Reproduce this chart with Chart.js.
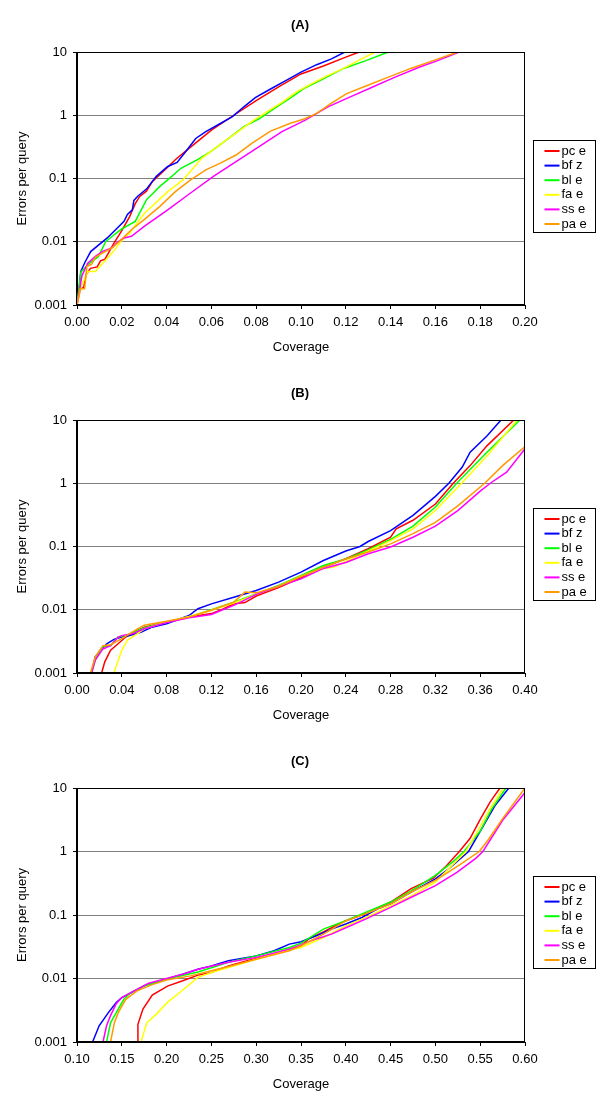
<!DOCTYPE html>
<html>
<head>
<meta charset="utf-8">
<script src="https://cdn.jsdelivr.net/npm/chart.js@4"></script>
<style>
  body { margin: 0; background: #fff; }
  canvas { display: block; }
</style>
</head>
<body>
<canvas id="chartA" width="600" height="368"></canvas>
<canvas id="chartB" width="600" height="368"></canvas>
<canvas id="chartC" width="600" height="369"></canvas>
<script>
// series labels + colours (same in all three panels)
const seriesNames = ['pc e', 'bf z', 'bl e', 'fa e', 'ss e', 'pa e'];
const seriesColors = ['#FF0000', '#0000FF', '#00FF00', '#FFFF00', '#FF00FF', '#FF9900'];

// tick values
const yTicks = [0.001, 0.01, 0.1, 1, 10];
const xTicksA = [0, 0.02, 0.04, 0.06, 0.08, 0.10, 0.12, 0.14, 0.16, 0.18, 0.20];
const xTicksB = [0, 0.04, 0.08, 0.12, 0.16, 0.20, 0.24, 0.28, 0.32, 0.36, 0.40];
const xTicksC = [0.10, 0.15, 0.20, 0.25, 0.30, 0.35, 0.40, 0.45, 0.50, 0.55, 0.60];

// (A)  [coverage, errors per query]
const A_pc = [[0,0.001],[0.0015,0.0018],[0.003,0.0019],[0.004,0.003],[0.006,0.0038],[0.009,0.004],[0.0105,0.005],[0.0125,0.0053],[0.0165,0.0095],[0.02,0.015],[0.0235,0.025],[0.026,0.04],[0.028,0.052],[0.031,0.063],[0.0337,0.09],[0.04,0.145],[0.044,0.2],[0.05,0.3],[0.06,0.58],[0.07,1.0],[0.08,1.7],[0.09,2.8],[0.10,4.5],[0.11,6.0],[0.12,8.3],[0.126,10]];
const A_bf = [[0,0.001],[0.0009,0.0018],[0.0017,0.0034],[0.0035,0.0047],[0.0061,0.007],[0.0135,0.0115],[0.018,0.0165],[0.021,0.021],[0.0225,0.027],[0.0247,0.032],[0.0254,0.045],[0.027,0.052],[0.031,0.068],[0.0354,0.108],[0.0405,0.155],[0.0447,0.18],[0.049,0.28],[0.053,0.43],[0.0575,0.55],[0.064,0.74],[0.0694,0.95],[0.0745,1.36],[0.0796,1.9],[0.0864,2.6],[0.093,3.5],[0.10,4.8],[0.107,6.3],[0.1136,7.8],[0.1196,10]];
const A_bl = [[0,0.001],[0.0017,0.0033],[0.0056,0.0046],[0.0095,0.0058],[0.0128,0.01],[0.0167,0.013],[0.02,0.016],[0.026,0.021],[0.031,0.046],[0.037,0.075],[0.0405,0.095],[0.0464,0.145],[0.054,0.2],[0.06,0.27],[0.0677,0.43],[0.0745,0.66],[0.0813,0.88],[0.088,1.27],[0.095,1.85],[0.1017,2.7],[0.1102,3.8],[0.119,5.5],[0.129,7.3],[0.139,10]];
const A_fa = [[0,0.001],[0.0014,0.0018],[0.0048,0.0034],[0.0082,0.0034],[0.0116,0.0046],[0.015,0.0063],[0.0175,0.008],[0.0195,0.01],[0.0235,0.0138],[0.03,0.028],[0.0405,0.062],[0.0473,0.095],[0.0507,0.13],[0.0558,0.21],[0.0626,0.32],[0.071,0.52],[0.078,0.79],[0.0847,1.13],[0.0915,1.6],[0.098,2.35],[0.105,3.2],[0.1116,4.2],[0.119,5.5],[0.1255,7.3],[0.1332,10]];
const A_ss = [[0,0.001],[0.0022,0.0029],[0.0048,0.0046],[0.0082,0.0059],[0.0116,0.0071],[0.0156,0.008],[0.018,0.0098],[0.021,0.0115],[0.0243,0.0122],[0.03,0.0175],[0.0405,0.032],[0.0507,0.059],[0.0609,0.108],[0.071,0.185],[0.0813,0.32],[0.0915,0.55],[0.1017,0.83],[0.112,1.36],[0.122,1.95],[0.132,2.8],[0.142,4.0],[0.153,5.8],[0.161,7.3],[0.1706,10]];
const A_pa = [[0,0.001],[0.0014,0.0018],[0.0034,0.0018],[0.0044,0.0041],[0.0065,0.0044],[0.0082,0.0057],[0.0116,0.0067],[0.0156,0.008],[0.0188,0.01],[0.0243,0.0155],[0.03,0.0224],[0.037,0.0363],[0.0439,0.062],[0.0507,0.095],[0.0575,0.137],[0.064,0.175],[0.071,0.235],[0.078,0.36],[0.0864,0.56],[0.095,0.74],[0.1017,0.88],[0.107,1.07],[0.1136,1.56],[0.1204,2.2],[0.129,2.9],[0.139,4.0],[0.149,5.5],[0.159,7.3],[0.17,10]];

// (B)
const B_pc = [[0.022,0.001],[0.0248,0.0015],[0.03,0.0023],[0.0367,0.0029],[0.0435,0.0037],[0.054,0.0047],[0.06,0.0053],[0.08,0.0064],[0.10,0.0077],[0.12,0.0087],[0.13,0.0102],[0.14,0.0124],[0.15,0.0130],[0.16,0.0165],[0.18,0.0225],[0.20,0.032],[0.22,0.047],[0.24,0.064],[0.26,0.092],[0.28,0.14],[0.285,0.19],[0.30,0.26],[0.32,0.47],[0.336,1.0],[0.351,1.9],[0.366,3.9],[0.39,10]];
const B_bf = [[0.013,0.001],[0.0163,0.0018],[0.0214,0.0023],[0.0265,0.0029],[0.033,0.0034],[0.04,0.0037],[0.047,0.0039],[0.057,0.0044],[0.067,0.0053],[0.08,0.006],[0.10,0.0081],[0.108,0.0104],[0.12,0.0124],[0.14,0.0158],[0.16,0.0201],[0.18,0.0273],[0.20,0.0393],[0.22,0.060],[0.24,0.085],[0.2527,0.1],[0.26,0.12],[0.28,0.178],[0.30,0.31],[0.32,0.62],[0.332,1.0],[0.344,1.8],[0.351,3.1],[0.366,5.6],[0.3786,10]];
const B_bl = [[0.013,0.001],[0.0163,0.0016],[0.0231,0.0026],[0.03,0.0027],[0.0367,0.0037],[0.0435,0.0039],[0.06,0.0052],[0.08,0.0064],[0.10,0.0077],[0.12,0.0100],[0.14,0.0132],[0.16,0.0178],[0.18,0.0242],[0.20,0.0348],[0.22,0.05],[0.24,0.0636],[0.26,0.088],[0.28,0.13],[0.30,0.21],[0.32,0.42],[0.339,1.0],[0.366,3.1],[0.3955,10]];
const B_fa = [[0.033,0.001],[0.04,0.0023],[0.045,0.0033],[0.054,0.0042],[0.06,0.0050],[0.08,0.0064],[0.10,0.0078],[0.12,0.0098],[0.14,0.0128],[0.16,0.0175],[0.18,0.0235],[0.20,0.034],[0.22,0.045],[0.23,0.048],[0.24,0.058],[0.26,0.085],[0.28,0.124],[0.30,0.19],[0.32,0.37],[0.3434,1.0],[0.366,2.7],[0.393,10]];
const B_ss = [[0.013,0.001],[0.0163,0.0016],[0.0231,0.0024],[0.03,0.0027],[0.0367,0.0037],[0.04,0.0039],[0.05,0.0042],[0.06,0.0050],[0.08,0.0063],[0.10,0.0075],[0.12,0.0084],[0.13,0.0100],[0.14,0.0117],[0.16,0.0175],[0.18,0.0235],[0.20,0.0308],[0.22,0.045],[0.24,0.056],[0.26,0.077],[0.28,0.098],[0.30,0.14],[0.32,0.21],[0.34,0.37],[0.36,0.75],[0.369,1.0],[0.3836,1.5],[0.40,3.5]];
const B_pa = [[0.012,0.001],[0.0163,0.0018],[0.0231,0.0027],[0.03,0.0028],[0.04,0.0035],[0.054,0.005],[0.06,0.0057],[0.08,0.0066],[0.10,0.0077],[0.12,0.0098],[0.14,0.0132],[0.15,0.019],[0.16,0.0185],[0.18,0.0235],[0.20,0.0335],[0.22,0.047],[0.24,0.0636],[0.26,0.082],[0.28,0.11],[0.30,0.16],[0.32,0.24],[0.34,0.44],[0.364,1.0],[0.38,1.9],[0.40,3.8]];

// (C)
const C_pc = [[0.168,0.001],[0.168,0.0019],[0.1736,0.0033],[0.184,0.0055],[0.201,0.0076],[0.218,0.0092],[0.235,0.0113],[0.25,0.0124],[0.269,0.0158],[0.29,0.019],[0.312,0.0227],[0.337,0.0288],[0.35,0.0328],[0.3585,0.042],[0.375,0.054],[0.388,0.0675],[0.40,0.081],[0.4265,0.11],[0.45,0.16],[0.473,0.26],[0.4977,0.38],[0.5126,0.6],[0.5267,1.0],[0.5386,1.6],[0.55,3.2],[0.561,6.0],[0.572,10]];
const C_bf = [[0.1174,0.001],[0.1247,0.0018],[0.135,0.0029],[0.1438,0.0042],[0.15,0.005],[0.1608,0.006],[0.1757,0.0078],[0.2,0.0098],[0.218,0.0117],[0.235,0.014],[0.25,0.0158],[0.269,0.019],[0.30,0.0227],[0.32,0.0273],[0.337,0.0348],[0.35,0.038],[0.367,0.047],[0.384,0.06],[0.40,0.072],[0.418,0.0915],[0.435,0.124],[0.45,0.15],[0.473,0.23],[0.50,0.37],[0.516,0.55],[0.537,1.0],[0.554,2.6],[0.567,5.4],[0.582,10]];
const C_bl = [[0.133,0.001],[0.1374,0.002],[0.1438,0.0029],[0.1523,0.0047],[0.16,0.006],[0.1757,0.0077],[0.2,0.0098],[0.235,0.0127],[0.269,0.018],[0.30,0.0227],[0.337,0.0308],[0.35,0.036],[0.375,0.06],[0.40,0.081],[0.422,0.11],[0.45,0.16],[0.473,0.24],[0.50,0.42],[0.52,0.7],[0.532,1.0],[0.55,2.1],[0.5626,4.6],[0.5788,10]];
const C_fa = [[0.1714,0.001],[0.1778,0.002],[0.188,0.0027],[0.201,0.0042],[0.218,0.0066],[0.235,0.0104],[0.25,0.0124],[0.269,0.0149],[0.30,0.0201],[0.333,0.0273],[0.35,0.0308],[0.375,0.0443],[0.40,0.067],[0.422,0.091],[0.45,0.139],[0.473,0.2],[0.50,0.33],[0.534,1.0],[0.548,2.2],[0.56,4.5],[0.5758,10]];
const C_ss = [[0.129,0.001],[0.133,0.0018],[0.1374,0.0026],[0.1438,0.004],[0.15,0.005],[0.16,0.006],[0.18,0.0084],[0.2,0.01],[0.218,0.0117],[0.235,0.014],[0.269,0.018],[0.30,0.0215],[0.337,0.029],[0.367,0.042],[0.384,0.05],[0.40,0.063],[0.422,0.086],[0.45,0.132],[0.473,0.19],[0.50,0.29],[0.524,0.47],[0.545,0.78],[0.553,1.0],[0.575,3.1],[0.60,8.5]];
const C_pa = [[0.1374,0.001],[0.1417,0.002],[0.146,0.0029],[0.1544,0.0047],[0.167,0.0064],[0.184,0.008],[0.2,0.0095],[0.2267,0.011],[0.25,0.0132],[0.269,0.0154],[0.30,0.02],[0.337,0.0273],[0.35,0.0328],[0.375,0.05],[0.40,0.081],[0.422,0.104],[0.45,0.15],[0.473,0.23],[0.50,0.35],[0.524,0.58],[0.549,1.0],[0.56,1.6],[0.575,3.3],[0.60,10]];

const FONT = "'Liberation Sans', Arial, sans-serif";
Chart.defaults.font.family = FONT;
Chart.defaults.font.size = 13;
Chart.defaults.color = '#000';

// black box round the plot area (excel style)
const plotFrame = {
    id: 'plotFrame',
    afterDatasetsDraw(chart) {
        const { ctx, chartArea: a } = chart;
        ctx.save();
        ctx.strokeStyle = '#000';
        ctx.lineWidth = 1;
        ctx.strokeRect(Math.round(a.left) - 0.5, Math.round(a.top) + 0.5,
            Math.round(a.right - a.left), Math.round(a.bottom - a.top) - 1);
        ctx.restore();
    }
};

// legend box to the right of the plot
const sideLegend = {
    id: 'sideLegend',
    afterDraw(chart) {
        const { ctx, chartArea: a } = chart;
        const x0 = Math.round(a.right) + 8.5, y0 = 140.5;
        ctx.save();
        ctx.strokeStyle = '#000';
        ctx.lineWidth = 1;
        ctx.strokeRect(x0, y0, 62, 92);
        ctx.font = '13px ' + FONT;
        ctx.textBaseline = 'middle';
        chart.data.datasets.forEach((ds, i) => {
            const y = y0 + 10.5 + i * 14.6;
            ctx.strokeStyle = ds.borderColor;
            ctx.lineWidth = 2;
            ctx.beginPath();
            ctx.moveTo(x0 + 11, y);
            ctx.lineTo(x0 + 26, y);
            ctx.stroke();
            ctx.fillStyle = '#000';
            ctx.fillText(ds.label, x0 + 28, y);
        });
        ctx.restore();
    }
};

function renderPanel(canvasId, title, xTicks, series) {
    new Chart(document.getElementById(canvasId), {
        type: 'line',
        data: {
            datasets: series.map((data, i) => ({
                label: seriesNames[i],
                data,
                borderColor: seriesColors[i],
                borderWidth: 1.5,
                pointRadius: 0,
                tension: 0,
                fill: false,
                order: series.length - i,
            })),
        },
        options: {
            responsive: false,
            animation: false,
            layout: { padding: 0 },
            plugins: {
                legend: { display: false },
                tooltip: { enabled: false },
                title: {
                    display: true,
                    text: title,
                    color: '#000',
                    font: { size: 13, weight: 'bold' },
                    padding: { top: 17.2, bottom: 19.2 },
                },
            },
            scales: {
                x: {
                    type: 'linear',
                    min: xTicks[0],
                    max: xTicks[xTicks.length - 1],
                    afterBuildTicks: (axis) => { axis.ticks = xTicks.map(v => ({ value: v })); },
                    afterFit: (axis) => { axis.height = 63; },
                    ticks: { callback: (v) => Number(v).toFixed(2), padding: 6, maxRotation: 0, autoSkip: false },
                    grid: { drawOnChartArea: false, tickLength: 4, tickColor: '#000' },
                    border: { color: '#000' },
                    title: { display: true, text: 'Coverage', padding: { top: 0, bottom: 13.2 } },
                },
                y: {
                    type: 'logarithmic',
                    min: 0.001,
                    max: 10,
                    afterBuildTicks: (axis) => { axis.ticks = yTicks.map(v => ({ value: v })); },
                    afterFit: (axis) => { axis.width = 77; },
                    ticks: { callback: (v) => String(v), padding: 6, autoSkip: false },
                    grid: { color: '#808080', tickLength: 4, tickColor: '#000' },
                    border: { color: '#000' },
                    title: { display: true, text: 'Errors per query', padding: { top: 14.2, bottom: 0 } },
                },
                // empty strip on the right that holds the legend
                legendSpace: {
                    type: 'linear',
                    position: 'right',
                    afterFit: (axis) => { axis.width = 75; },
                    ticks: { display: false },
                    grid: { display: false },
                    border: { display: false },
                },
            },
        },
        plugins: [plotFrame, sideLegend],
    });
}

renderPanel('chartA', '(A)', xTicksA, [A_pc, A_bf, A_bl, A_fa, A_ss, A_pa]);
renderPanel('chartB', '(B)', xTicksB, [B_pc, B_bf, B_bl, B_fa, B_ss, B_pa]);
renderPanel('chartC', '(C)', xTicksC, [C_pc, C_bf, C_bl, C_fa, C_ss, C_pa]);
</script>
</body>
</html>
